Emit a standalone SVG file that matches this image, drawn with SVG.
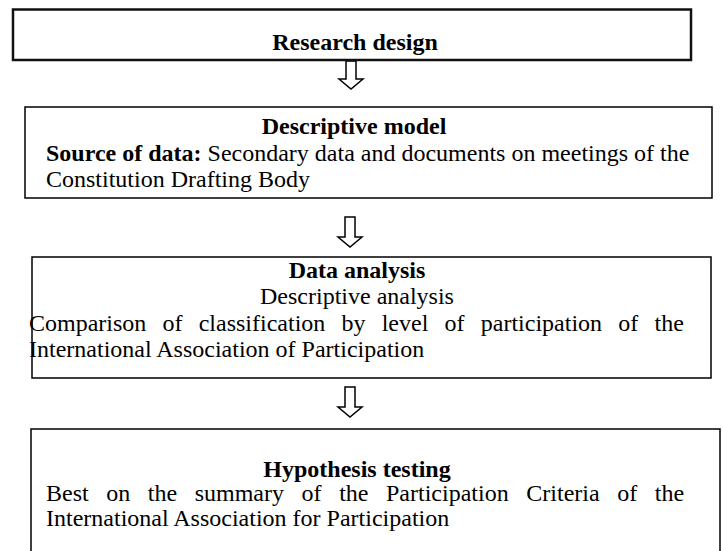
<svg xmlns="http://www.w3.org/2000/svg" width="723" height="551" viewBox="0 0 723 551">
<style>
.bg{fill:#ffffff}
.box{fill:none;stroke:#000;stroke-width:1.5}
.box1{fill:none;stroke:#111;stroke-width:2.5}
.t{font-family:"Liberation Serif","Times New Roman",serif;font-size:24px;fill:#000}
.b{font-weight:bold}
.c{text-anchor:middle}
.arrow{fill:#fff;stroke:#000;stroke-width:1.5;stroke-linejoin:miter}
</style>
<rect class="bg" x="0" y="0" width="723" height="551"/>
<g id="connectors">
<polygon class="arrow" points="346,61 356,61 356,79 363,79 351,89 339,79 346,79"/>
<polygon class="arrow" points="345,217 355,217 355,237 362,237 350,247 338,237 345,237"/>
<polygon class="arrow" points="345,387 355,387 355,407 362,407 350,417 338,407 345,407"/>
</g>
<g id="research-design">
<rect class="box1" x="13" y="9.5" width="678" height="50.5"/>
<text class="t b c" x="355" y="50">Research design</text>
</g>
<g id="descriptive-model">
<rect class="box" x="25" y="107" width="687" height="91"/>
<text class="t b c" x="354" y="134">Descriptive model</text>
<text class="t" x="46" y="161"><tspan class="b">Source of data:</tspan> Secondary data and documents on meetings of the</text>
<text class="t" x="46" y="187">Constitution Drafting Body</text>
</g>
<g id="data-analysis">
<rect class="box" x="32" y="257" width="679" height="121"/>
<text class="t b c" x="357" y="278">Data analysis</text>
<text class="t c" x="357" y="304">Descriptive analysis</text>
<text class="t" y="331"><tspan x="29">Comparison</tspan><tspan x="162.5">of</tspan><tspan x="198.7">classification</tspan><tspan x="341.5">by</tspan><tspan x="381.7">level</tspan><tspan x="444.6">of</tspan><tspan x="480.8">participation</tspan><tspan x="618.3">of</tspan><tspan x="654.5">the</tspan></text>
<text class="t" x="29" y="357">International Association of Participation</text>
</g>
<g id="hypothesis-testing">
<rect class="box" x="31" y="429" width="689" height="140"/>
<text class="t b c" x="357" y="477">Hypothesis testing</text>
<text class="t" y="501"><tspan x="46">Best</tspan><tspan x="106.3">on</tspan><tspan x="147.8">the</tspan><tspan x="194.7">summary</tspan><tspan x="301.6">of</tspan><tspan x="339.2">the</tspan><tspan x="386">Participation</tspan><tspan x="526.3">Criteria</tspan><tspan x="617.2">of</tspan><tspan x="654.8">the</tspan></text>
<text class="t" x="46" y="526">International Association for Participation</text>
</g>
</svg>
